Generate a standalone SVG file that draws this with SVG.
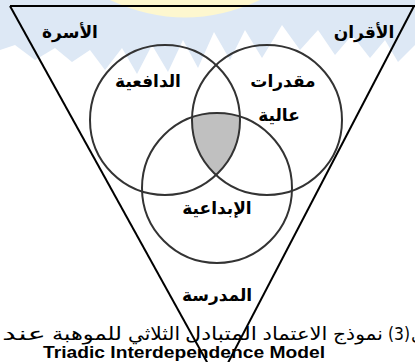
<svg xmlns="http://www.w3.org/2000/svg" width="415" height="362" viewBox="0 0 415 362">
<style>
.lbl{font-family:"DejaVu Sans",sans-serif;font-weight:bold;font-size:17px;fill:#000;text-anchor:middle}
.cap{font-family:"DejaVu Sans",sans-serif;font-size:18px;fill:#000;text-anchor:middle}
.circ{fill:none;stroke:#333;stroke-width:2}
.edge{fill:none;stroke:#000;stroke-width:2}
</style>
<rect width="415" height="362" fill="#fff"/>
<g id="watermark">
<path d="M0,0 H415 V45 L398,62 L385,40 L370,58 L352,35 L335,55 L318,30 L300,50 L282,25 L262,58 L245,30 L230,60 L214,32 L198,68 L183,40 L168,72 L152,45 L137,74 L122,48 L105,70 L90,50 L72,62 L55,48 L35,60 L15,45 L0,50 Z" fill="#dde8f5"/>
<path d="M110,0 Q185,35 260,0 Z" fill="#fdf7cf"/>
</g>
<g id="frame">
<line class="edge" x1="10" y1="6" x2="415" y2="6"/>
<line class="edge" x1="10" y1="6" x2="218" y2="382"/>
<line class="edge" x1="414" y1="6" x2="218" y2="382"/>
</g>
<g id="core">
<path d="M192,117.3 A75,75 0 0,1 239.9,116.6 A75,75 0 0,1 216,175 A75,75 0 0,1 192,117.3 Z" fill="#c0c0c0"/>
</g>
<g id="motivation">
<circle class="circ" cx="165" cy="120" r="75"/>
<text class="lbl" x="148" y="87">الدافعية</text>
</g>
<g id="ability">
<circle class="circ" cx="267" cy="120" r="75"/>
<text class="lbl" x="283" y="87">مقدرات</text>
<text class="lbl" x="279" y="121">عالية</text>
</g>
<g id="creativity">
<circle class="circ" cx="217" cy="188" r="75"/>
<text class="lbl" x="217" y="214">الإبداعية</text>
</g>
<g id="family"><text class="lbl" x="70" y="38">الأسرة</text></g>
<g id="peers"><text class="lbl" x="364" y="38">الأقران</text></g>
<g id="school"><text class="lbl" x="217" y="301">المدرسة</text></g>
<g id="caption">
<text class="cap" x="429" y="340" textLength="36" lengthAdjust="spacingAndGlyphs">شكل</text>
<text class="cap" x="399" y="340" textLength="22" lengthAdjust="spacingAndGlyphs">(3)</text>
<text class="cap" x="358" y="340" textLength="50" lengthAdjust="spacingAndGlyphs">نموذج</text>
<text class="cap" x="295" y="340" textLength="65" lengthAdjust="spacingAndGlyphs">الاعتماد</text>
<text class="cap" x="221" y="340" textLength="72" lengthAdjust="spacingAndGlyphs">المتبادل</text>
<text class="cap" x="154" y="340" textLength="52" lengthAdjust="spacingAndGlyphs">الثلاثي</text>
<text class="cap" x="87" y="340" textLength="70" lengthAdjust="spacingAndGlyphs">للموهبة</text>
<text class="cap" x="24" y="340" textLength="44" lengthAdjust="spacingAndGlyphs">عند</text>
<text x="184" y="358" font-family="Liberation Sans, sans-serif" font-weight="bold" font-size="16" text-anchor="middle" textLength="282" lengthAdjust="spacingAndGlyphs">Triadic Interdependence Model</text>
</g>
</svg>
